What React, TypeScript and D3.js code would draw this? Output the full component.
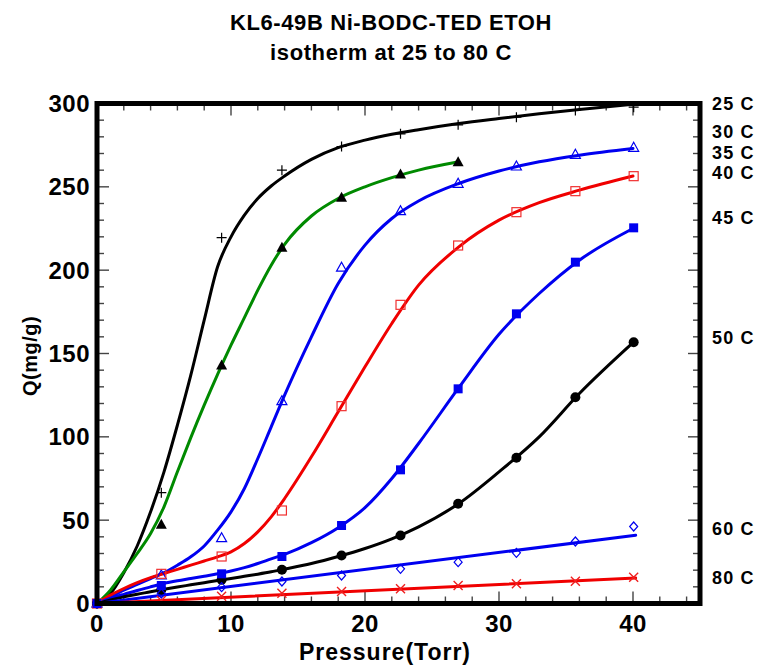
import React from "react";
import * as d3 from "d3";

const W = 762;
const H = 666;

// ---- data ----
const titleLines = ["KL6-49B Ni-BODC-TED ETOH", "isotherm at 25 to 80 C"];
const xLabel = "Pressure(Torr)";
const yLabel = "Q(mg/g)";
const xTicks = [0, 10, 20, 30, 40];
const yTicks = [0, 50, 100, 150, 200, 250, 300];

const seriesNames = ["25 C", "30 C", "35 C", "40 C", "45 C", "50 C", "60 C", "80 C"];
const labelValues = [300, 283.3, 270.8, 258.5, 231.5, 159.5, 45, 15.5];

const pressure = [0, 4.8, 9.3, 13.8, 18.25, 22.65, 26.95, 31.3, 35.7, 40.05];
const q25 = [0, 66.5, 219.5, 260, 274.2, 281.8, 287.2, 291.8, 295.8, 297.8];
const q30 = [0, 47.2, 142.8, 213.4, 243.4, 257.4, 264.8];
const q35 = [0, 16.8, 39.2, 121.4, 201.5, 235.4, 251.8, 262.2, 269.2, 273.4];
const q40 = [0, 17.8, 28.2, 55.8, 118.4, 179.2, 214.8, 234.8, 247.4, 256.4];
const q45 = [0, 10.8, 17.8, 28.2, 46.8, 80.2, 128.8, 173.8, 204.8, 225.4];
const q50 = [0, 8.2, 14.2, 20.2, 28.8, 40.8, 59.8, 87.4, 123.8, 156.8];
const q60 = [0, 6, 9.8, 13.2, 16.8, 20.8, 24.8, 30.4, 37.2, 46.2];
const q80 = [0, 1.8, 4.4, 6.2, 7.2, 8.8, 10.8, 11.8, 13.4, 15.8];

// fitted curves
const fitGrid = [0, 1, 2, 3, 4, 5, 6, 7, 8, 9, 10, 11, 12, 13, 14, 16, 18, 20, 22, 24, 27, 30, 33, 36, 40];
const fitGrid25 = [0, 1, 2, 3, 4, 5, 6, 7, 8, 9, 10, 11, 12, 13, 14, 16, 18, 20, 22, 24, 27, 30, 33, 36, 40, 44.5];
const fitGrid30 = [0, 1, 2, 3, 4, 5, 6, 7, 8, 9, 10, 11, 12, 13, 14, 16, 18, 20, 22, 24, 27];
const fitGridLin = [0, 40.2];
const fit25 = [0, 6, 18.5, 34.5, 55, 79, 107, 137, 170, 202, 220, 233, 243, 250.5, 256.5, 266.5, 273.5, 278, 281.5, 284.3, 288, 291, 293.8, 296.4, 299.5, 302.5];
const fit30 = [0, 8, 19, 30, 42, 58, 79, 99.5, 119, 137.5, 155, 171.5, 188, 203, 215.5, 232.5, 243, 250, 255.5, 260, 265];
const fit35 = [0, 4, 8, 11.5, 15, 18.5, 23, 28, 34.5, 44, 55, 69, 87, 106, 125, 160, 192, 215, 231, 241.5, 252, 259.5, 265, 269, 273];
const fit40 = [0, 5, 9, 12.5, 15.5, 18, 20.5, 23, 25.5, 28, 31, 36, 43, 52, 63, 88, 115, 142, 168, 191, 214, 230, 240.5, 248, 256.5];
const fit45 = [0, 3, 5.5, 7.8, 10, 12, 13.6, 15, 16.4, 17.8, 19.5, 21.5, 24, 26.8, 29.5, 36.5, 45.5, 57.5, 75, 96, 129.5, 161.5, 186, 206, 225];
const fit50 = [0, 2.2, 4, 5.6, 7, 8.5, 9.9, 11.2, 12.5, 13.8, 15, 16.3, 17.6, 19, 20.6, 24, 28.2, 33, 38.8, 46, 60, 79, 100, 126, 156.5];
const fit60 = [0, 41];
const fit80 = [0, 15.3];

const lineColors = ["#000000", "#008a00", "#0000f0", "#f00000", "#0000f0", "#000000", "#0000f0", "#f00000"];
const markerColors = ["#000000", "#000000", "#0000f0", "#f03030", "#0000f0", "#000000", "#0000f0", "#f02020"];
const markerTypes = ["plus", "triFilled", "triOpen", "squareOpen", "squareFilled", "circle", "diamond", "cross"];

const markerData = [q25, q30, q35, q40, q45, q50, q60, q80];
const fitX = [fitGrid25, fitGrid30, fitGrid, fitGrid, fitGrid, fitGrid, fitGridLin, fitGridLin];
const fitY = [fit25, fit30, fit35, fit40, fit45, fit50, fit60, fit80];
const markerOrder = [0, 1, 2, 3, 5, 6, 7, 4];

// ---- layout ----
const x = d3.scaleLinear().domain([0, 45]).range([97, 700]);
const y = d3.scaleLinear().domain([0, 300]).range([603.5, 103.5]);
const FONT = "'Liberation Sans', Arial, Helvetica, sans-serif";

function Marker({ type, cx, cy, color }: { type: string; cx: number; cy: number; color: string }) {
  const s = 5;
  switch (type) {
    case "plus":
      return (
        <path d={`M${cx - s},${cy}H${cx + s}M${cx},${cy - s}V${cy + s}`} stroke={color} strokeWidth={1.2} fill="none" />
      );
    case "cross":
      return (
        <path d={`M${cx - 4.5},${cy - 4.5}L${cx + 4.5},${cy + 4.5}M${cx - 4.5},${cy + 4.5}L${cx + 4.5},${cy - 4.5}`} stroke={color} strokeWidth={1.4} fill="none" />
      );
    case "triFilled":
      return <path d={`M${cx},${cy - 6}L${cx + 5.5},${cy + 4}L${cx - 5.5},${cy + 4}Z`} fill={color} />;
    case "triOpen":
      return <path d={`M${cx},${cy - 5.5}L${cx + 5},${cy + 3.5}L${cx - 5},${cy + 3.5}Z`} fill="none" stroke={color} strokeWidth={1.2} />;
    case "squareOpen":
      return <rect x={cx - 4.5} y={cy - 4.5} width={9} height={9} fill="none" stroke={color} strokeWidth={1.2} />;
    case "squareFilled":
      return <rect x={cx - 4.5} y={cy - 4.5} width={9} height={9} fill={color} />;
    case "circle":
      return <circle cx={cx} cy={cy} r={5} fill={color} />;
    case "diamond":
      return <path d={`M${cx},${cy - 4.5}L${cx + 4},${cy}L${cx},${cy + 4.5}L${cx - 4},${cy}Z`} fill="none" stroke={color} strokeWidth={1.2} />;
    default:
      return null;
  }
}

export default function App() {
  const line = d3
    .line<[number, number]>()
    .x((d) => x(d[0]))
    .y((d) => y(d[1]))
    .curve(d3.curveMonotoneX);

  const x0 = x(0), x1 = x(45), y0 = y(0), y1 = y(300);

  const xMinor = d3.range(0, 45.01, 2).filter((v) => v % 10 !== 0);
  const xMajor = d3.range(0, 45.01, 10);
  const yMinor = d3.range(0, 300.01, 10).filter((v) => v % 50 !== 0);
  const yMajor = d3.range(0, 300.01, 50);

  const tickColor = "#444";
  return (
    <svg width={W} height={H} style={{ position: "absolute", left: 0, top: 0, background: "#fff" }} fontFamily={FONT}>
      <defs>
        <clipPath id="plotClip">
          <rect x={x0} y={y1} width={x1 - x0} height={y0 - y1} />
        </clipPath>
      </defs>
      <rect x={0} y={0} width={W} height={H} fill="#fff" />
      {/* title */}
      {titleLines.map((t, i) => (
        <text key={t} x={391} y={30 + i * 30} textAnchor="middle" fontSize={22} fontWeight="bold" letterSpacing={0.6} fill="#000">
          {t}
        </text>
      ))}
      {/* ticks */}
      <g stroke={tickColor} strokeWidth={1.4}>
        {xMinor.map((v) => (
          <g key={"xm" + v}>
            <line x1={x(v)} x2={x(v)} y1={y0} y2={y0 - 7} />
            <line x1={x(v)} x2={x(v)} y1={y1} y2={y1 + 7} />
          </g>
        ))}
        {xMajor.map((v) => (
          <g key={"xM" + v}>
            <line x1={x(v)} x2={x(v)} y1={y0} y2={y0 - 12} />
            <line x1={x(v)} x2={x(v)} y1={y1} y2={y1 + 12} />
          </g>
        ))}
        {yMinor.map((v) => (
          <g key={"ym" + v}>
            <line x1={x0} x2={x0 + 7} y1={y(v)} y2={y(v)} />
            <line x1={x1} x2={x1 - 7} y1={y(v)} y2={y(v)} />
          </g>
        ))}
        {yMajor.map((v) => (
          <g key={"yM" + v}>
            <line x1={x0} x2={x0 + 12} y1={y(v)} y2={y(v)} />
            <line x1={x1} x2={x1 - 12} y1={y(v)} y2={y(v)} />
          </g>
        ))}
      </g>
      {/* curves */}
      <g clipPath="url(#plotClip)" fill="none" strokeWidth={3} strokeLinejoin="round" strokeLinecap="round">
        {fitY.map((ys, i) => {
          const pts = ys.map((v, j) => [fitX[i][j], v] as [number, number]);
          return <path key={"c" + i} d={line(pts) || ""} stroke={lineColors[i]} />;
        })}
      </g>
      {/* markers */}
      <g>
        {markerOrder.map((i) => (
          <g key={"m" + i}>
            {markerData[i].map((v, j) => (
              <Marker key={j} type={markerTypes[i]} cx={x(pressure[j])} cy={y(v)} color={markerColors[i]} />
            ))}
          </g>
        ))}
      </g>
      {/* frame */}
      <rect x={x0} y={y1} width={x1 - x0} height={y0 - y1} fill="none" stroke="#000" strokeWidth={5} />
      {/* tick labels */}
      {xTicks.map((v) => (
        <text key={"xl" + v} x={x(v)} y={632} textAnchor="middle" fontSize={24} fontWeight="bold" letterSpacing={0.5}>
          {v}
        </text>
      ))}
      {yTicks.map((v) => (
        <text key={"yl" + v} x={90} y={y(v) + 8.5} textAnchor="end" fontSize={24} fontWeight="bold" letterSpacing={0.5}>
          {v}
        </text>
      ))}
      {/* axis labels */}
      <text x={385} y={659.5} textAnchor="middle" fontSize={23} fontWeight="bold" letterSpacing={1}>
        {xLabel}
      </text>
      <text transform={`translate(37,356) rotate(-90)`} textAnchor="middle" fontSize={20} fontWeight="bold" letterSpacing={0.5}>
        {yLabel}
      </text>
      {/* series labels */}
      {seriesNames.map((n, i) => (
        <text key={n} x={712} y={y(labelValues[i]) + 6.5} fontSize={18} fontWeight="bold" letterSpacing={1.2}>
          {n}
        </text>
      ))}
    </svg>
  );
}
